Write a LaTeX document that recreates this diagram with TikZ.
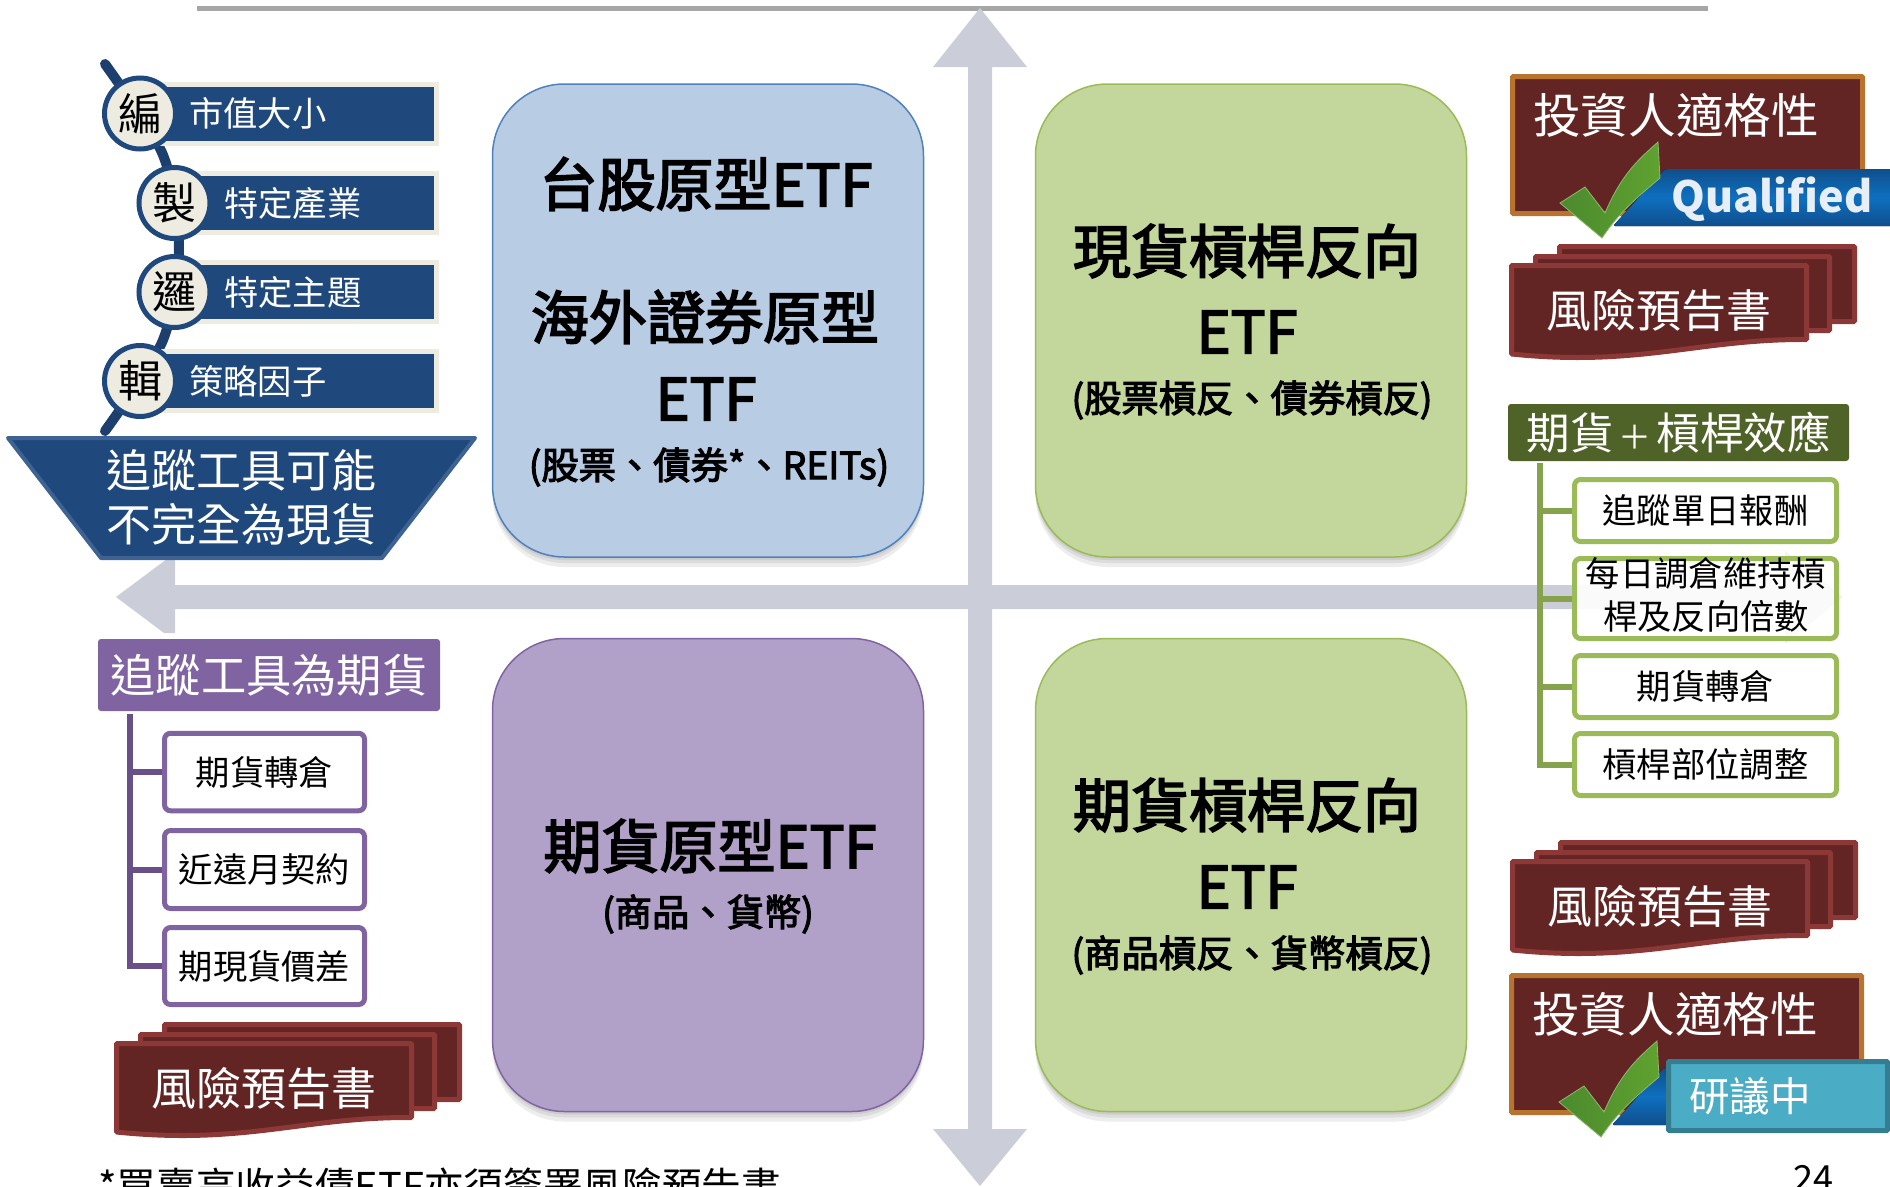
\documentclass[tikz,border=0pt]{standalone}
\usepackage{amsmath,amssymb,fontspec}
\usetikzlibrary{shadows}
\setmainfont{Noto Sans CJK TC}
\newfontfamily\heavyfont{Noto Sans CJK TC}[FakeBold=3]

\definecolor{axisgray}{HTML}{CBCED9}
\definecolor{axisfaint}{HTML}{F1F2F5}
\definecolor{rulegray}{HTML}{A6A6A6}
\definecolor{navy}{HTML}{1F497D}
\definecolor{navydark}{HTML}{1C3F6E}
\definecolor{navyrim}{HTML}{3E6291}
\definecolor{cream}{HTML}{EEECE1}
\definecolor{maroon}{HTML}{632523}
\definecolor{maroonrim}{HTML}{8C3836}
\definecolor{copper}{HTML}{B8732F}
\definecolor{olive}{HTML}{4F6228}
\definecolor{leaf}{HTML}{9BBB59}
\definecolor{leafline}{HTML}{86A24C}
\definecolor{grape}{HTML}{8064A2}
\definecolor{grapeline}{HTML}{6A5088}
\definecolor{teal}{HTML}{4BACC6}
\definecolor{tealrim}{HTML}{357D91}
\definecolor{skyfill}{HTML}{B8CCE4}
\definecolor{skyline}{HTML}{4F81BD}
\definecolor{limefill}{HTML}{C3D69B}
\definecolor{grapefill}{HTML}{B1A0C7}
\definecolor{stripdark}{HTML}{0F4E8C}
\definecolor{stripmid}{HTML}{0E70C0}
\definecolor{tickdark}{HTML}{4C8A2E}
\definecolor{ticklight}{HTML}{5FA22F}
\definecolor{tickedge}{HTML}{8DB870}
\definecolor{qualwhite}{HTML}{E8EEF6}

\newcommand{\fs}[2]{\fontsize{#1}{#2}\selectfont}

\tikzset{
  quadbox/.style={rounded corners=72pt, line width=1.5, minimum width=431, minimum height=473,
    general shadow={fill=black,opacity=.07,shadow yshift=-3pt},
    general shadow={fill=black,opacity=.07,shadow yshift=-6pt},
    general shadow={fill=black,opacity=.07,shadow yshift=-10pt}},
  quadhead/.style={font=\fs{58}{66}\heavyfont},
  quadsub/.style={font=\fs{37.3}{44}\heavyfont},
  barbox/.style={draw=cream, fill=navy, line width=5, minimum height=59},
  bartext/.style={anchor=west, text=white, font=\fs{34.3}{41}, inner sep=0},
  discnode/.style={circle, draw=navy, fill=cream, line width=5, minimum size=71, inner sep=0, font=\fs{44}{50}},
  headbox/.style={rounded corners=3pt, text=white, inner sep=0},
  whitebox/.style={draw, fill=white, line width=5, rounded corners=6pt, minimum width=200, font=\fs{34.3}{43}, inner sep=0, align=center},
  treeline/.style={line width=6},
  maroontext/.style={text=white, inner sep=0},
  riskdoc/.pic={
    \draw[draw=maroonrim, fill=maroon, line width=5, rounded corners=1pt] (50.5,-16.5) rectangle (345.5,58.5);
    \draw[draw=maroonrim, fill=maroon, line width=5, rounded corners=1pt] (26.5,-6.5) rectangle (320.5,67.5);
    \draw[draw=maroonrim, fill=maroon, line width=5, rounded corners=1pt]
      (2.5,2.5) -- (297.5,2.5) -- (297.5,76.5) .. controls (190,76) and (130,104) .. (2.5,91) -- cycle;
    \node[maroontext, font=\fs{45}{50}] (risktext) at (150,47) {風險預告書};
  },
  qualdoc/.pic={
    \draw[draw=copper, fill=maroon, line width=5, rounded corners=1pt] (2.5,2.5) rectangle (352.5,139.5);
    \node[maroontext, anchor=west, font=\fs{47.6}{54}] (qualtext) at (23,41) {投資人適格性};
    % blue strip
    \fill[top color=stripdark, bottom color=stripdark, middle color=stripmid, rounded corners=2pt]
      (103,152) -- (155,95) -- (385,95) -- (385,152) -- cycle;
    % tick
    \draw[draw=tickedge, line width=.8, left color=tickdark, right color=ticklight]
      (92,164) -- (50,129) -- (75,113) -- (95,139) .. controls (112,99) and (130,84) .. (148,68)
      -- (150,104) .. controls (125,125) and (108,140) .. cycle;
  }
}

\begin{document}
\begin{tikzpicture}[x=1pt,y=-1pt]
\useasboundingbox (0,0) rectangle (1890,1186);
\clip (0,0) rectangle (1890,1186);

% rule on top
\draw[rulegray, line width=5.5] (197,8.5) -- (1708,8.5);

% axes
\fill[axisgray] (980,8) -- (1027,67) -- (992,67) -- (992,1129) -- (1027,1129) -- (980,1186)
  -- (933,1129) -- (968,1129) -- (968,67) -- (933,67) -- cycle;
\fill[axisfaint] (1572,585) -- (1785,585) -- (1785,551) -- (1843,597) -- (1785,644) -- (1785,609) -- (1572,609) -- cycle;
\fill[axisgray] (116,597) -- (164,633) -- (175,633) -- (175,609) -- (1574,609) -- (1574,585) -- (175,585) -- (175,553) -- cycle;

% four quadrants
\node[quadbox, draw=skyline, fill=skyfill] (quadA) at (708,320.5) {};
\node[quadbox, draw=leaf, fill=limefill] (quadB) at (1251,320.5) {};
\node[quadbox, draw=grape, fill=grapefill] (quadC) at (708,875) {};
\node[quadbox, draw=leaf, fill=limefill] (quadD) at (1251,875) {};

\node[quadhead] (quadAa) at (706,184) {台股原型ETF};
\node[quadhead] (quadAb) at (705,317) {海外證券原型};
\node[quadhead] (quadAc) at (706,399) {ETF};
\node[quadsub] (quadAd) at (709,467) {(股票、債券*、REITs)};

\node[quadhead] (quadBa) at (1247,251) {現貨槓桿反向};
\node[quadhead] (quadBb) at (1247,332) {ETF};
\node[quadsub] (quadBc) at (1252,400) {(股票槓反、債券槓反)};

\node[quadhead] (quadCa) at (710,846) {期貨原型ETF};
\node[quadsub] (quadCb) at (708,914) {(商品、貨幣)};

\node[quadhead] (quadDa) at (1247,805) {期貨槓桿反向};
\node[quadhead] (quadDb) at (1247,887) {ETF};
\node[quadsub] (quadDc) at (1252,955) {(商品槓反、貨幣槓反)};

% spine behind the discs
\coordinate (spinetop) at (105,64);
\coordinate (spineb) at (163,155);
\coordinate (spinec) at (179,247);
\coordinate (spined) at (163,340);
\coordinate (spinebot) at (105,431);
\draw[navydark, line width=10, line cap=round] plot[smooth] coordinates {(spinetop) (spineb) (spinec) (spined) (spinebot)};

% bars
\node[barbox, minimum width=286.5] (barA) at (293.25,113.5) {};
\node[barbox, minimum width=251.5] (barB) at (310.75,203) {};
\node[barbox, minimum width=251.5] (barC) at (310.75,292) {};
\node[barbox, minimum width=286.5] (barD) at (293.25,381) {};
\node[bartext] (barAt) at (189,113.5) {市值大小};
\node[bartext] (barBt) at (224,203) {特定產業};
\node[bartext] (barCt) at (224,292) {特定主題};
\node[bartext] (barDt) at (189,381) {策略因子};

\node[discnode] (discA) at (140,113.5) {編};
\node[discnode] (discB) at (174.5,203) {製};
\node[discnode] (discC) at (174.5,292) {邏};
\node[discnode] (discD) at (140,381) {輯};

% funnel
\draw[draw=navyrim, fill=navy, line width=4, line join=round] (8,438) -- (475,438) -- (382,558) -- (101,558) -- cycle;
\node[text=white, inner sep=0, align=center, font=\fs{45}{54}] (funneltext) at (241,497) {追蹤工具可能\\不完全為現貨};

% purple side
\node[headbox, fill=grape, minimum width=342, minimum height=72, font=\fs{45.3}{52}] (purplehead) at (269,675) {追蹤工具為期貨};
\node[whitebox, draw=grape, minimum height=77.5] (purpleA) at (264.5,772) {期貨轉倉};
\node[whitebox, draw=grape, minimum height=78] (purpleB) at (264.5,869.5) {近遠月契約};
\node[whitebox, draw=grape, minimum height=77] (purpleC) at (264.5,966) {期現貨價差};
\coordinate (purpletop) at (130,714);
\draw[treeline, grapeline] (purpletop) |- (purpleC.west);
\draw[treeline, grapeline] (purpletop |- purpleA.west) -- (purpleA.west);
\draw[treeline, grapeline] (purpletop |- purpleB.west) -- (purpleB.west);

\pic at (114,1041) {riskdoc};

% green side
\pic at (1510,74) {qualdoc};
\node[text=qualwhite, inner sep=0, font=\fs{43}{50}\bfseries] (qualified) at (1772,199) {Qualified};
\pic at (1509,263) {riskdoc};

\node[headbox, fill=olive, minimum width=341, minimum height=57, font=\fs{43.5}{50}] (greenhead) at (1678.5,432.5) {期貨\makebox[43pt]{\fs{33}{50}＋}槓桿效應};
\node[whitebox, draw=leaf, minimum width=262, minimum height=62] (greenA) at (1705.5,510.5) {追蹤單日報酬};
\node[whitebox, draw=leaf, fill opacity=.65, text opacity=1, minimum width=262, minimum height=80] (greenB) at (1705.5,598.5) {};
\node[whitebox, draw=leaf, minimum width=262, minimum height=62] (greenC) at (1705.5,686.5) {期貨轉倉};
\node[whitebox, draw=leaf, minimum width=262, minimum height=62] (greenD) at (1705.5,764.5) {槓桿部位調整};
\node[inner sep=0, align=center, font=\fs{34.3}{43}] (greenBt) at (1706,595) {每日調倉維持槓\\桿及反向倍數};
\coordinate (greentop) at (1540,463);
\draw[treeline, leafline] (greentop) |- (greenD.west);
\draw[treeline, leafline] (greentop |- greenA.west) -- (greenA.west);
\draw[treeline, leafline] (greentop |- greenB.west) -- (greenB.west);
\draw[treeline, leafline] (greentop |- greenC.west) -- (greenC.west);

\pic at (1510,859) {riskdoc};
\pic at (1509,973) {qualdoc};
\node[draw=tealrim, fill=teal, line width=5, rounded corners=1pt, minimum width=219, minimum height=69] (studybox) at (1778,1096) {};
\node[maroontext, anchor=west, font=\fs{40.5}{46}] (studytext) at (1689,1096) {研議中};

% cut off by the page edge
\node[anchor=base west, inner sep=0, font=\fs{39.7}{46}] (footnote) at (98,1201) {*買賣高收益債ETF亦須簽署風險預告書};
\node[anchor=base, inner sep=0, font=\fs{36}{42}] (pagenum) at (1813,1191) {24};

\end{tikzpicture}
\end{document}
